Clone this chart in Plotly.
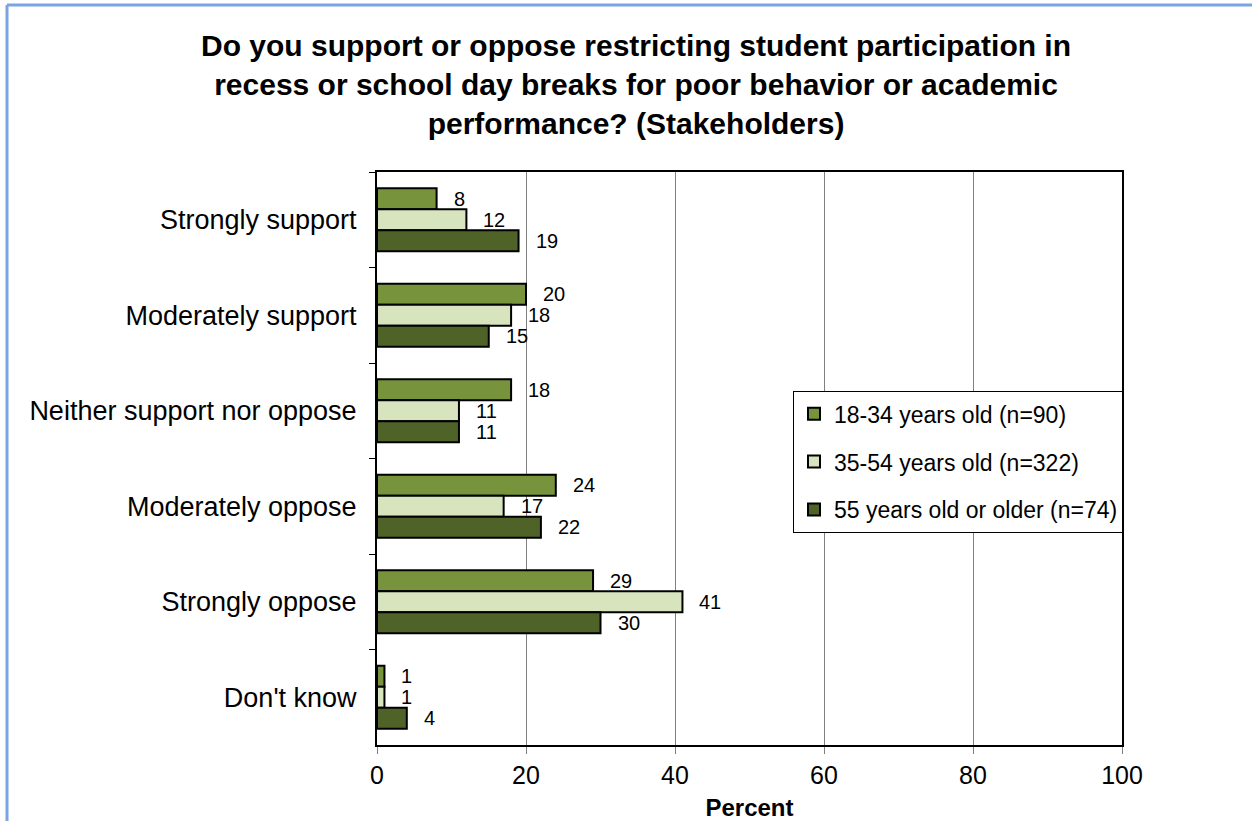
import plotly.graph_objects as go

categories = ["Strongly support", "Moderately support", "Neither support nor oppose",
              "Moderately oppose", "Strongly oppose", "Don't know"]
series_names = ["18-34 years old (n=90)", "35-54 years old (n=322)", "55 years old or older (n=74)"]
age_18_34 = [8, 20, 18, 24, 29, 1]
age_35_54 = [12, 18, 11, 17, 41, 1]
age_55_up = [19, 15, 11, 22, 30, 4]
x_ticks = [0, 20, 40, 60, 80, 100]

colors = ["#77933C", "#D7E4BD", "#4F6228"]
FONT = "Liberation Sans, Arial, sans-serif"
series_values = [age_18_34, age_35_54, age_55_up]

fig = go.Figure()
for i, (name, vals) in enumerate(zip(series_names, series_values)):
    fig.add_trace(go.Bar(
        y=categories, x=vals, name=name, orientation="h",
        marker=dict(color=colors[i], line=dict(color="black", width=2)),
        legendgroup=f"g{i}",
    ))

# value labels sit a little to the right of each bar end
bar_step = 21  # vertical spacing between bars inside a group, in px
for i, vals in enumerate(series_values):
    for c, v in zip(categories, vals):
        fig.add_annotation(
            x=v, y=c, xref="x", yref="y", text=str(v), showarrow=False,
            xanchor="left", yanchor="middle",
            xshift=15, yshift=(1 - i) * bar_step,
            font=dict(size=20, family=FONT, color="black"),
        )

fig.update_layout(
    barmode="group", bargap=0.34, bargroupgap=0.0,
    width=1252, height=821,
    margin=dict(l=377, r=130, t=172, b=76),
    paper_bgcolor="white", plot_bgcolor="white",
    font=dict(family=FONT, color="black"),
    title=dict(
        text="<b>Do you support or oppose restricting student participation in<br>"
             "recess or school day breaks for poor behavior or academic<br>"
             "performance? (Stakeholders)</b>",
        x=0.508, xanchor="center", y=0.932, yanchor="top",
        font=dict(size=30, family=FONT, color="black"),
    ),
    xaxis=dict(
        range=[0, 100], tickvals=x_ticks, showgrid=True, gridcolor="#808080", gridwidth=1.3,
        ticks="outside", ticklen=7, tickcolor="#808080", tickwidth=1.3,
        tickfont=dict(size=25, family=FONT, color="black"),
        showline=True, linecolor="black", linewidth=2, mirror=True,
        zeroline=False, automargin=False,
        title=dict(text="<b>Percent</b>", font=dict(size=24, family=FONT, color="black")),
    ),
    yaxis=dict(
        categoryorder="array", categoryarray=categories, autorange="reversed",
        tickson="boundaries", ticks="outside", ticklen=6, tickcolor="black", tickwidth=1.3,
        tickfont=dict(size=27, family=FONT, color="black"),
        showline=True, linecolor="black", linewidth=2, mirror=True,
        showgrid=False, ticklabelstandoff=13, automargin=False,
    ),
    legend=dict(
        x=0.558, y=0.618, xanchor="left", yanchor="top",
        bgcolor="white", bordercolor="black", borderwidth=1.3,
        font=dict(size=23, family=FONT, color="black"),
        tracegroupgap=15, traceorder="grouped",
    ),
    showlegend=True,
)

# blue frame along the top and left edges of the page
fig.add_shape(type="line", xref="paper", yref="paper",
              x0=(7 - 377) / 745, x1=(1252 - 377) / 745,
              y0=1 + (172 - 5) / 573, y1=1 + (172 - 5) / 573,
              line=dict(color="#7BA4E2", width=3))
fig.add_shape(type="line", xref="paper", yref="paper",
              x0=(7 - 377) / 745, x1=(7 - 377) / 745,
              y0=1 + (172 - 5) / 573, y1=-(76 + 5) / 573,
              line=dict(color="#7BA4E2", width=3))

fig.write_html("out.html")
